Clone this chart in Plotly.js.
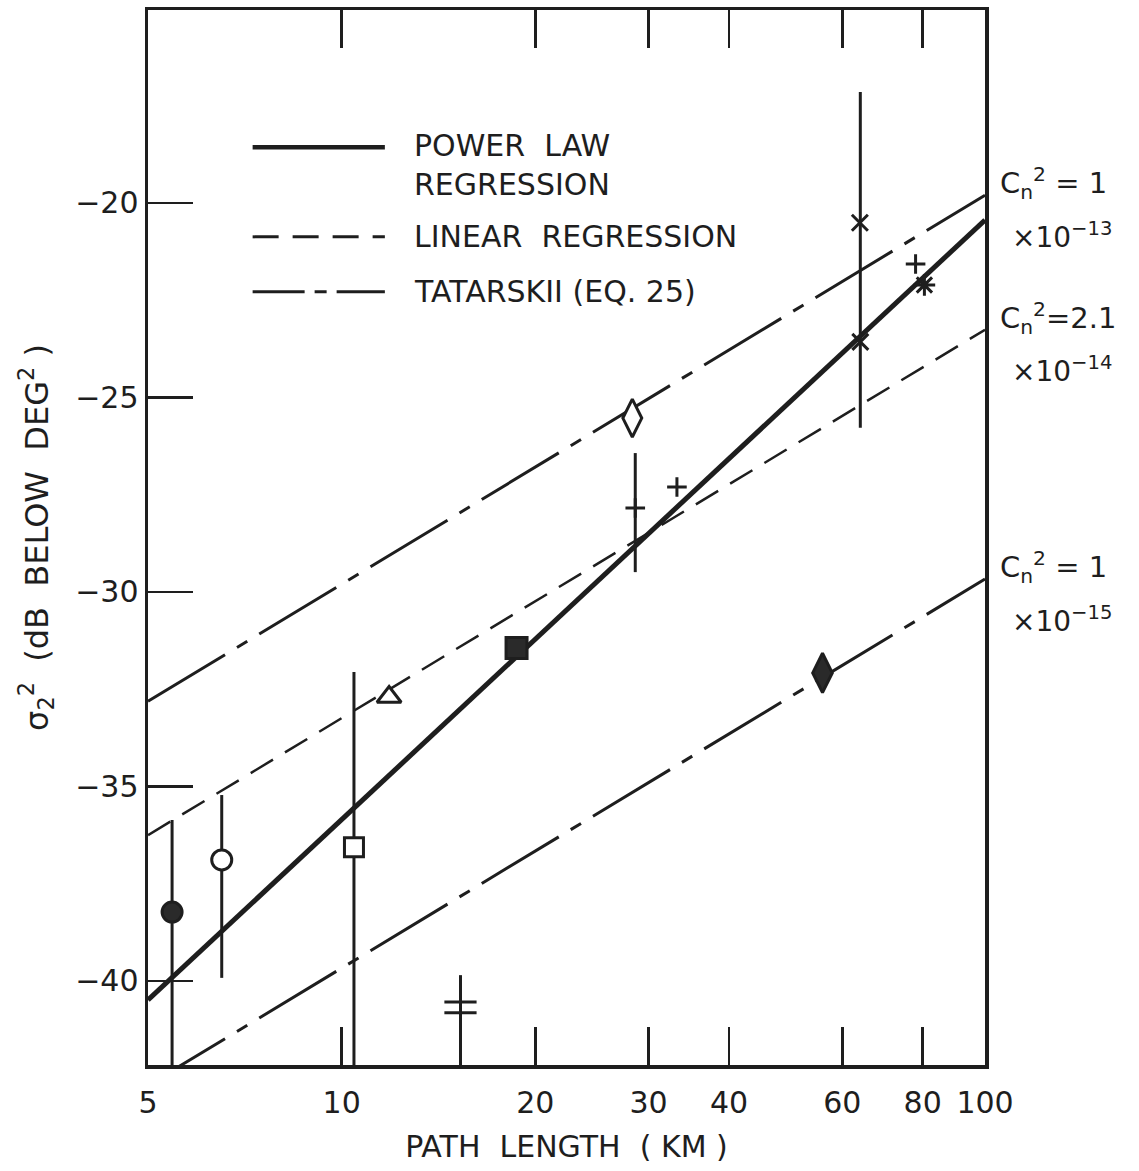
<!DOCTYPE html>
<html>
<head>
<meta charset="utf-8">
<script src="https://cdn.plot.ly/plotly-3.0.1.min.js"></script>
<style>
  html, body { margin: 0; padding: 0; background: #fff; }
  #chart { width: 1139px; height: 1171px; }
</style>
</head>
<body>
<div id="chart"></div>
<script>
// ---------------- DATA ----------------
// Regression / theory lines, evaluated at the two ends of the path-length axis (km)
const lineX = [5, 100];
const powerLawY = [-40.49, -20.44];
const linearRegY = [-36.25, -23.26];
const tatarskii13Y = [-32.81, -19.80];   // Cn^2 = 1 x 10^-13
const tatarskii15Y = [-42.68, -29.67];   // Cn^2 = 1 x 10^-15

// Measured points: path length (km) and sigma^2 (dB below deg^2)
const obsX = [5.45, 6.51, 10.45, 11.85, 18.7, 15.3, 15.3, 28.3, 28.6, 33.2, 63.9, 64.0, 78.0, 80.5, 55.9];
const obsY = [-38.23, -36.89, -36.56, -32.70, -31.44, -40.54, -40.82, -25.53, -27.84, -27.30, -20.51, -23.57, -21.57, -22.11, -32.08];
// Range bars (top / bottom of each vertical bar), null = no bar
const barTop = [-35.86, -35.22, -32.06, null, null, -39.85, null, null, -26.43, null, null, -17.15, null, null, null];
const barBottom = [-44, -39.92, -44, null, null, -44, null, null, -29.49, null, null, -25.78, null, null, null];

// Axis ticks
const xTickVals = [5, 10, 20, 30, 40, 60, 80, 100];
const xTickText = ['5', '10', '20', '30', '40', '60', '80', '100'];
const yTickVals = [-20, -25, -30, -35, -40];
const yTickText = ['\u221220', '\u221225', '\u221230', '\u221235', '\u221240'];

// Legend entries
const legendNames = ['POWER  LAW<br>REGRESSION', 'LINEAR  REGRESSION', 'TATARSKII (EQ. 25)'];

// Curve labels
const cnLabels = [
  ['C<sub>n</sub><sup>2</sup> = 1', '\u00d710<sup>\u221213</sup>'],
  ['C<sub>n</sub><sup>2</sup>=2.1', '\u00d710<sup>\u221214</sup>'],
  ['C<sub>n</sub><sup>2</sup> = 1', '\u00d710<sup>\u221215</sup>']
];

// ---------------- STYLE ----------------
const INK = '#1e1e1e';
const FONT = 'DejaVu Sans, sans-serif';
const symbols = ['circle', 'circle', 'square', 'triangle-up', 'square', 'line-ew-open', 'line-ew-open',
  'diamond-tall', 'cross-thin-open', 'cross-thin-open', 'x-thin-open', 'x-thin-open',
  'cross-thin-open', 'asterisk-open', 'diamond-tall'];
const fills = ['#2a2a2a', '#fff', '#fff', '#fff', '#2a2a2a', INK, INK, '#fff', INK, INK, INK, INK, INK, INK, '#2a2a2a'];
const sizes = [20, 20, 19, 21, 21, 23, 23, 27, 14, 14, 16, 16, 14, 18, 28];
const lineDash = {
  power: 'solid',
  linear: '26px,14px',
  tat: '90px,14px,12px,14px'
};

const errPlus = obsY.map((y, i) => barTop[i] === null ? 0 : barTop[i] - y);
const errMinus = obsY.map((y, i) => barBottom[i] === null ? 0 : y - barBottom[i]);

const traces = [
  { x: lineX, y: tatarskii13Y, mode: 'lines', line: { color: INK, width: 3, dash: lineDash.tat }, hoverinfo: 'skip' },
  { x: lineX, y: tatarskii15Y, mode: 'lines', line: { color: INK, width: 3, dash: lineDash.tat }, hoverinfo: 'skip' },
  { x: lineX, y: linearRegY, mode: 'lines', line: { color: INK, width: 2.5, dash: lineDash.linear }, hoverinfo: 'skip' },
  { x: lineX, y: powerLawY, mode: 'lines', line: { color: INK, width: 5, dash: lineDash.power }, hoverinfo: 'skip' },
  {
    x: obsX, y: obsY, mode: 'markers', cliponaxis: true,
    marker: { symbol: symbols, color: fills, size: sizes, opacity: 1, line: { color: INK, width: 3 } },
    error_y: { type: 'data', symmetric: false, array: errPlus, arrayminus: errMinus, color: INK, thickness: 3, width: 0 }
  }
];

// legend drawn inside plot
const legendLineY = [0.870, 0.785, 0.733];
const legendTextY = [0.853, 0.785, 0.733];
const legendDash = ['solid', '26px,14px', '52px,10px,12px,10px'];
const legendWidth = [4.5, 3, 3];
const shapes = legendLineY.map((yy, i) => ({
  type: 'line', xref: 'paper', yref: 'paper', x0: 0.125, x1: 0.283, y0: yy, y1: yy,
  line: { color: INK, width: legendWidth[i], dash: legendDash[i] }
}));
const annotations = legendNames.map((t, i) => ({
  xref: 'paper', yref: 'paper', x: 0.315, y: legendTextY[i], xanchor: 'left', yanchor: 'middle',
  text: t, showarrow: false, align: 'left', font: { family: FONT, size: 30, color: INK }
}));

const curveEnds = [tatarskii13Y[1], linearRegY[1], tatarskii15Y[1]];
curveEnds.forEach((yv, i) => {
  annotations.push({ xref: 'paper', yref: 'y', x: 1.015, y: yv, yshift: 12, xanchor: 'left', yanchor: 'middle',
    text: cnLabels[i][0], showarrow: false, font: { family: FONT, size: 29, color: INK } });
  annotations.push({ xref: 'paper', yref: 'y', x: 1.03, y: yv, yshift: -40, xanchor: 'left', yanchor: 'middle',
    text: cnLabels[i][1], showarrow: false, font: { family: FONT, size: 28, color: INK } });
});

const layout = {
  width: 1139, height: 1171,
  margin: { l: 148, r: 154, t: 10, b: 106 },
  paper_bgcolor: '#fff', plot_bgcolor: '#fff',
  showlegend: false,
  font: { family: FONT, color: INK },
  xaxis: {
    type: 'log', range: [Math.log10(5), 2],
    tickmode: 'array', tickvals: xTickVals, ticktext: xTickText,
    ticks: 'inside', ticklen: 38, tickwidth: 2.5, tickcolor: INK,
    showline: true, linewidth: 3.5, linecolor: INK, mirror: 'ticks',
    showgrid: false, zeroline: false,
    tickfont: { family: FONT, size: 30, color: INK },
    ticklabelstandoff: 8,
    title: { text: 'PATH  LENGTH  ( KM )', font: { family: FONT, size: 30, color: INK }, standoff: 18 }
  },
  yaxis: {
    range: [-42.16, -15.04],
    tickmode: 'array', tickvals: yTickVals, ticktext: yTickText,
    ticks: 'inside', ticklen: 45, tickwidth: 2.5, tickcolor: INK,
    showline: true, linewidth: 3.5, linecolor: INK, mirror: true,
    showgrid: false, zeroline: false,
    tickfont: { family: FONT, size: 30, color: INK },
    title: { text: '\u03c3<sub>2</sub><sup>2</sup>  (dB  BELOW  DEG<sup>2</sup> )', font: { family: FONT, size: 32, color: INK }, standoff: 18 }
  },
  shapes: shapes,
  annotations: annotations
};

Plotly.newPlot('chart', traces, layout, { staticPlot: true, displayModeBar: false });
</script>
</body>
</html>
